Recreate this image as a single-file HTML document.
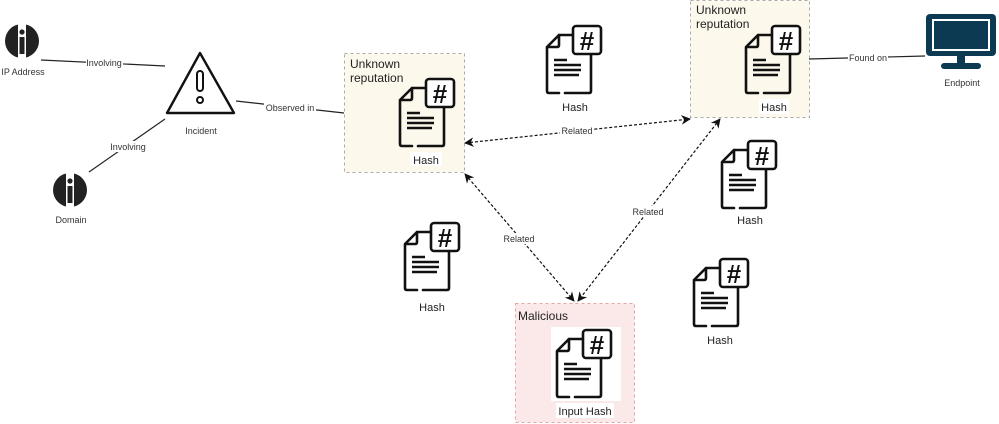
<!DOCTYPE html>
<html><head><style>
html,body{margin:0;padding:0;background:#fff;}
svg{display:block;font-family:"Liberation Sans",sans-serif;}
</style></head><body>
<svg width="999" height="424" viewBox="0 0 999 424" xmlns="http://www.w3.org/2000/svg">
<defs>
<g id="hash">
  <path d="M30,10 L14,10 L2,22 L2,66 Q2,68 4,68 L14,68 M20,68 L44,68 Q46,68 46,66 L46,30" fill="none" stroke="#111" stroke-width="2.6" stroke-linecap="round" stroke-linejoin="round"/>
  <path d="M14,10 L14,20 Q14,22 12,22 L4,22" fill="none" stroke="#111" stroke-width="2.6" stroke-linecap="round"/>
  <rect x="28" y="1" width="28" height="28" rx="3" fill="#fff" stroke="#111" stroke-width="2.6"/>
  <text x="42" y="25" font-size="26" font-weight="bold" text-anchor="middle" fill="#111">#</text>
  <path d="M9,35 H22 M9,40 H36 M9,45 H36 M9,50 H34" stroke="#111" stroke-width="2.4"/>
</g>
<g id="info">
  <circle cx="0" cy="0" r="17" fill="#222"/>
  <rect x="-4" y="-18" width="8" height="36" fill="#fff"/>
  <rect x="-2.5" y="-4" width="5" height="17" fill="#222"/>
  <circle cx="0" cy="-9" r="2.6" fill="#222"/>
</g>
<marker id="ar" viewBox="0 0 10 10" refX="9" refY="5" markerWidth="8" markerHeight="8" orient="auto-start-reverse"><path d="M0,0 L10,5 L0,10 L3,5 Z" fill="#111"/></marker>
</defs>

<rect x="344.5" y="53.5" width="120" height="119" fill="#fdf8ec" stroke="#aaa" stroke-dasharray="3,3"/>
<rect x="690.5" y="0.5" width="119" height="117" fill="#fdf8ec" stroke="#aaa" stroke-dasharray="3,3"/>
<rect x="515.5" y="303.5" width="119" height="119" fill="#fbe9e9" stroke="#e8a5a5" stroke-dasharray="3,3"/>
<rect x="551" y="327" width="70" height="74" fill="#fff"/>

<g font-size="12" fill="#222">
<text x="350" y="68">Unknown</text><text x="350" y="82">reputation</text>
<text x="696" y="14">Unknown</text><text x="696" y="28">reputation</text>
<text x="518" y="320">Malicious</text>
</g>

<g stroke="#222" stroke-width="1.2" fill="none">
<line x1="41" y1="60" x2="165" y2="66"/>
<line x1="89" y1="172" x2="165" y2="119"/>
<line x1="236" y1="101" x2="344" y2="113"/>
<line x1="809" y1="59" x2="925" y2="56"/>
</g>
<g stroke="#111" stroke-width="1.2" stroke-dasharray="3,2" fill="none" marker-start="url(#ar)" marker-end="url(#ar)">
<line x1="465" y1="143" x2="690" y2="119"/>
<line x1="465" y1="174" x2="574" y2="301"/>
<line x1="720" y1="119" x2="578" y2="301"/>
</g>

<g font-size="9" fill="#333" text-anchor="middle">
<rect x="86" y="57" width="37" height="11" fill="#fff"/><text x="104" y="66">Involving</text>
<rect x="109" y="141" width="37" height="11" fill="#fff"/><text x="128" y="150">Involving</text>
<rect x="264" y="102" width="52" height="11" fill="#fff"/><text x="290" y="111">Observed in</text>
<rect x="848" y="52" width="40" height="11" fill="#fff"/><text x="868" y="61">Found on</text>
<rect x="560" y="125" width="33" height="11" fill="#fff"/><text x="577" y="134">Related</text>
<rect x="502" y="233" width="33" height="11" fill="#fff"/><text x="519" y="242">Related</text>
<rect x="632" y="206" width="33" height="11" fill="#fff"/><text x="648" y="215">Related</text>
<text x="23" y="75">IP Address</text>
<text x="71" y="223">Domain</text>
<text x="201" y="134">Incident</text>
<text x="962" y="86">Endpoint</text>
</g>

<use href="#info" x="22" y="41"/>
<use href="#info" x="70" y="190"/>

<path d="M167,113 L200,53 L234,113 Z" fill="#fff" stroke="#111" stroke-width="2.4" stroke-linejoin="round"/>
<rect x="197" y="71" width="6" height="20" rx="3" fill="none" stroke="#111" stroke-width="2"/>
<circle cx="200" cy="100" r="3" fill="none" stroke="#111" stroke-width="2"/>

<rect x="926" y="14" width="70" height="42" rx="4" fill="#0b3a52"/>
<rect x="932" y="19" width="58" height="32" fill="#fff"/>
<rect x="934" y="21" width="54" height="28" fill="#0b3a52"/>
<rect x="957" y="56" width="8" height="8" fill="#0b3a52"/>
<rect x="941" y="63" width="40" height="6" rx="3" fill="#0b3a52"/>

<use href="#hash" x="398" y="78"/>
<use href="#hash" x="545" y="25"/>
<use href="#hash" x="744" y="25"/>
<use href="#hash" x="720" y="140"/>
<use href="#hash" x="403" y="222"/>
<use href="#hash" x="692" y="258"/>
<use href="#hash" x="555" y="329"/>

<g font-size="11" fill="#222" text-anchor="middle">
<rect x="410" y="152" width="32" height="14" fill="#fff"/><text x="426" y="164">Hash</text>
<text x="575" y="111">Hash</text>
<rect x="759" y="99" width="30" height="15" fill="#fff"/><text x="774" y="111">Hash</text>
<text x="750" y="224">Hash</text>
<text x="432" y="311">Hash</text>
<text x="720" y="344">Hash</text>
<rect x="556" y="403" width="58" height="15" fill="#fff"/><text x="585" y="415">Input Hash</text>
</g>
</svg>
</body></html>
